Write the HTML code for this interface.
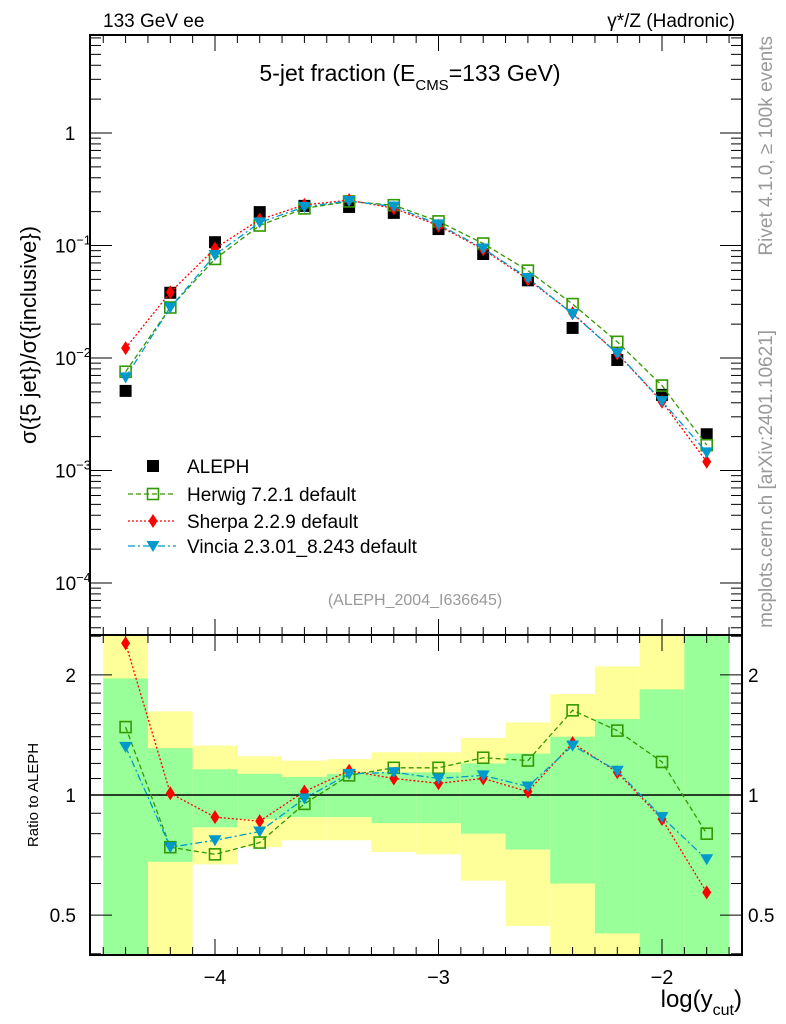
<!DOCTYPE html>
<html><head><meta charset="utf-8"><style>
body{margin:0;background:#fff;}
svg{display:block;font-family:"Liberation Sans",sans-serif;}
</style></head><body>
<svg id="c" width="786" height="1024" viewBox="0 0 786 1024"></svg>
<script>
const xCenters=[-4.4,-4.2,-4.0,-3.8,-3.6,-3.4,-3.2,-3.0,-2.8,-2.6,-2.4,-2.2,-2.0,-1.8];
const alephVals=[0.0051,0.038,0.107,0.198,0.225,0.22,0.195,0.14,0.084,0.049,0.0185,0.0096,0.0047,0.0021];
const herwigRatio=[1.48,0.74,0.71,0.76,0.95,1.12,1.17,1.17,1.24,1.22,1.63,1.45,1.21,0.80];
const sherpaRatio=[2.40,1.01,0.88,0.86,1.02,1.15,1.10,1.07,1.10,1.02,1.35,1.14,0.87,0.57];
const vinciaRatio=[1.32,0.74,0.77,0.81,0.98,1.13,1.14,1.10,1.12,1.05,1.33,1.15,0.88,0.69];
const yellowTop=[2.6,1.62,1.33,1.25,1.22,1.23,1.28,1.28,1.39,1.52,1.79,2.10,2.6,2.6];
const greenTop=[1.96,1.31,1.16,1.13,1.11,1.13,1.14,1.14,1.20,1.27,1.40,1.55,1.84,2.6];
const greenBot=[0.3,0.68,0.83,0.87,0.88,0.88,0.85,0.85,0.80,0.73,0.60,0.45,0.3,0.3];
const yellowBot=[0.3,0.3,0.67,0.74,0.77,0.77,0.72,0.71,0.61,0.47,0.3,0.3,0.3,0.3];
const xTickLabels=[-4,-3,-2];
const mainDecades=[0,-1,-2,-3,-4];
const ratioTicks=[0.5,1,2];

const L=90,R=742,T=35,M=635,B=955;
const X=v=>215+(v+4)*223.5;
const Y=v=>133-Math.log10(v)*112.5;
const YR=v=>795-Math.log10(v)*399;
const svg=document.getElementById('c');
const NS='http://www.w3.org/2000/svg';
function mk(tag,attrs,parent){const e=document.createElementNS(NS,tag);for(const k in attrs)e.setAttribute(k,attrs[k]);(parent||svg).appendChild(e);return e;}
function txt(s,x,y,size,anchor,fill,parent){const t=mk('text',{x:x,y:y,'font-size':size,'text-anchor':anchor||'start',fill:fill||'#000'},parent);t.textContent=s;return t;}

const bands=mk('g',{});


const clipR=v=>Math.max(M,Math.min(B,YR(v)));
xCenters.forEach((c,i)=>{
  const x0=X(c-0.1),w=X(c+0.1)-x0;
  const y1=mk('rect',{x:x0,y:clipR(yellowTop[i]),width:w,height:clipR(yellowBot[i])-clipR(yellowTop[i]),fill:'#ffff99'},bands);
  
  
  const g1=mk('rect',{x:x0,y:clipR(greenTop[i]),width:w,height:clipR(greenBot[i])-clipR(greenTop[i]),fill:'#99ff99'},bands);
  
  
});
mk('line',{x1:L,x2:R,y1:YR(1),y2:YR(1),stroke:'#000','stroke-width':1.5});

const f1=mk('rect',{x:L,y:T,width:R-L,height:M-T,fill:'none',stroke:'#000','stroke-width':2});

const f2=mk('rect',{x:L,y:M,width:R-L,height:B-M,fill:'none',stroke:'#000','stroke-width':2});


for(let k=-45;k<=-17;k++){const v=k/10;const x=X(v);const maj=(k%10===0);const len=maj?16:8;
  [T,M].forEach(y0=>{mk('line',{x1:x,x2:x,y1:y0,y2:y0+len,stroke:'#000','stroke-width':1});});
  [M,B].forEach(y0=>{mk('line',{x1:x,x2:x,y1:y0,y2:y0-len,stroke:'#000','stroke-width':1});});
}
xTickLabels.forEach(v=>{const t=txt('\u2212'+Math.abs(v),X(v),984,20,'middle');});
for(let d=-5;d<=0;d++){for(let m=1;m<=9;m++){const v=m*Math.pow(10,d);const y=Y(v);if(y<T||y>M)continue;const len=m===1?22:11;
  mk('line',{x1:L,x2:L+len,y1:y,y2:y,stroke:'#000'});mk('line',{x1:R,x2:R-len,y1:y,y2:y,stroke:'#000'});}}
mainDecades.forEach(d=>{const y=Y(Math.pow(10,d));
  if(d===0){const t=txt('1',70,y+7,19,'middle');}
  else{const t=mk('text',{x:55,y:y+7,'font-size':19});
    t.innerHTML='10<tspan dy="-8" font-size="13">'+(d<0?'\u2212':'')+Math.abs(d)+'</tspan>';}
});
[0.4,0.5,0.6,0.7,0.8,0.9,1,1.1,1.2,1.3,1.4,1.5,1.6,1.7,1.8,1.9,2,2.5].forEach(v=>{const y=YR(v);if(y<M||y>B)return;const maj=ratioTicks.includes(v);const len=maj?22:11;
  mk('line',{x1:L,x2:L+len,y1:y,y2:y,stroke:'#000'});mk('line',{x1:R,x2:R-len,y1:y,y2:y,stroke:'#000'});});
ratioTicks.forEach(v=>{const y=YR(v)+7;const s=String(v);
  const a=txt(s,76,y,19,'end');
  const b=txt(s,748,y,19,'start');});

function series(vals,color,dash,marker,name,yf){
  const g=mk('g',{});
  
  
  const pts=xCenters.map((c,i)=>[X(c),yf(vals[i])]);
  if(dash!==null){mk('polyline',{points:pts.map(p=>p.join(',')).join(' '),fill:'none',stroke:color,'stroke-width':1.3,'stroke-dasharray':dash},g);}
  pts.forEach(p=>drawMarker(marker,p[0],p[1],color,g));
}
function drawMarker(m,x,y,color,g){let e;
  if(m==='sq')e=mk('rect',{x:x-6,y:y-6,width:12,height:12,fill:'#000'},g);
  else if(m==='osq')e=mk('rect',{x:x-5.5,y:y-5.5,width:11,height:11,fill:'none',stroke:color,'stroke-width':1.6},g);
  else if(m==='dia')e=mk('polygon',{points:`${x},${y-7} ${x+4.5},${y} ${x},${y+7} ${x-4.5},${y}`,fill:color},g);
  else e=mk('polygon',{points:`${x-6.5},${y-5} ${x+6.5},${y-5} ${x},${y+6}`,fill:color},g);
  return e;}
const herwigMain=alephVals.map((a,i)=>a*herwigRatio[i]);
const sherpaMain=alephVals.map((a,i)=>a*sherpaRatio[i]);
const vinciaMain=alephVals.map((a,i)=>a*vinciaRatio[i]);
series(alephVals,'#000',null,'sq','aleph-data',Y);
series(herwigMain,'#339900','5,3','osq','herwig-series',Y);
series(sherpaMain,'#ff0000','2,2','dia','sherpa-series',Y);
series(vinciaMain,'#0099cc','7,3,2,3','tri','vincia-series',Y);
series(herwigRatio,'#339900','5,3','osq','herwig-ratio',YR);
series(sherpaRatio,'#ff0000','2,2','dia','sherpa-ratio',YR);
series(vinciaRatio,'#0099cc','7,3,2,3','tri','vincia-ratio',YR);

const leg=[['ALEPH','#000',null,'sq'],['Herwig 7.2.1 default','#339900','5,3','osq'],['Sherpa 2.2.9 default','#ff0000','2,2','dia'],['Vincia 2.3.01_8.243 default','#0099cc','7,3,2,3','tri']];
const ly=[466,494,521,546];
leg.forEach((l,i)=>{const g=mk('g',{});
  
  
  if(l[2])mk('line',{x1:128,x2:176,y1:ly[i],y2:ly[i],stroke:l[1],'stroke-width':1.3,'stroke-dasharray':l[2]},g);
  drawMarker(l[3],153,ly[i],l[1],g);
  txt(l[0],187,ly[i]+7,19,'start','#000',g);});
</script>
<svg width="786" height="1024" style="position:absolute;left:0;top:0">
<text x="103" y="27" font-size="19" font-family="Liberation Sans">133 GeV ee</text>
<text x="735" y="27" font-size="19" font-family="Liberation Sans" text-anchor="end">γ*/Z (Hadronic)</text>
<text x="410" y="81" font-size="23" font-family="Liberation Sans" text-anchor="middle">5-jet fraction (E<tspan dy="9" font-size="15">CMS</tspan><tspan dy="-9">=133 GeV)</tspan></text>
<text transform="translate(36,335) rotate(-90)" font-size="22" font-family="Liberation Sans" text-anchor="middle">σ({5 jet})/σ({inclusive})</text>
<text transform="translate(38,795) rotate(-90)" font-size="15" font-family="Liberation Sans" text-anchor="middle">Ratio to ALEPH</text>
<text x="742" y="1007" font-size="24" font-family="Liberation Sans" text-anchor="end">log(y<tspan dy="8" font-size="16">cut</tspan><tspan dy="-8">)</tspan></text>
<text transform="translate(772,36) rotate(-90)" font-size="19" font-family="Liberation Sans" text-anchor="end" fill="#999">Rivet 4.1.0, ≥ 100k events</text>
<text transform="translate(772,330) rotate(-90)" font-size="19" font-family="Liberation Sans" text-anchor="end" fill="#999">mcplots.cern.ch [arXiv:2401.10621]</text>
<text x="415" y="605" font-size="16" font-family="Liberation Sans" text-anchor="middle" fill="#999">(ALEPH_2004_I636645)</text>
</svg>
</body></html>
